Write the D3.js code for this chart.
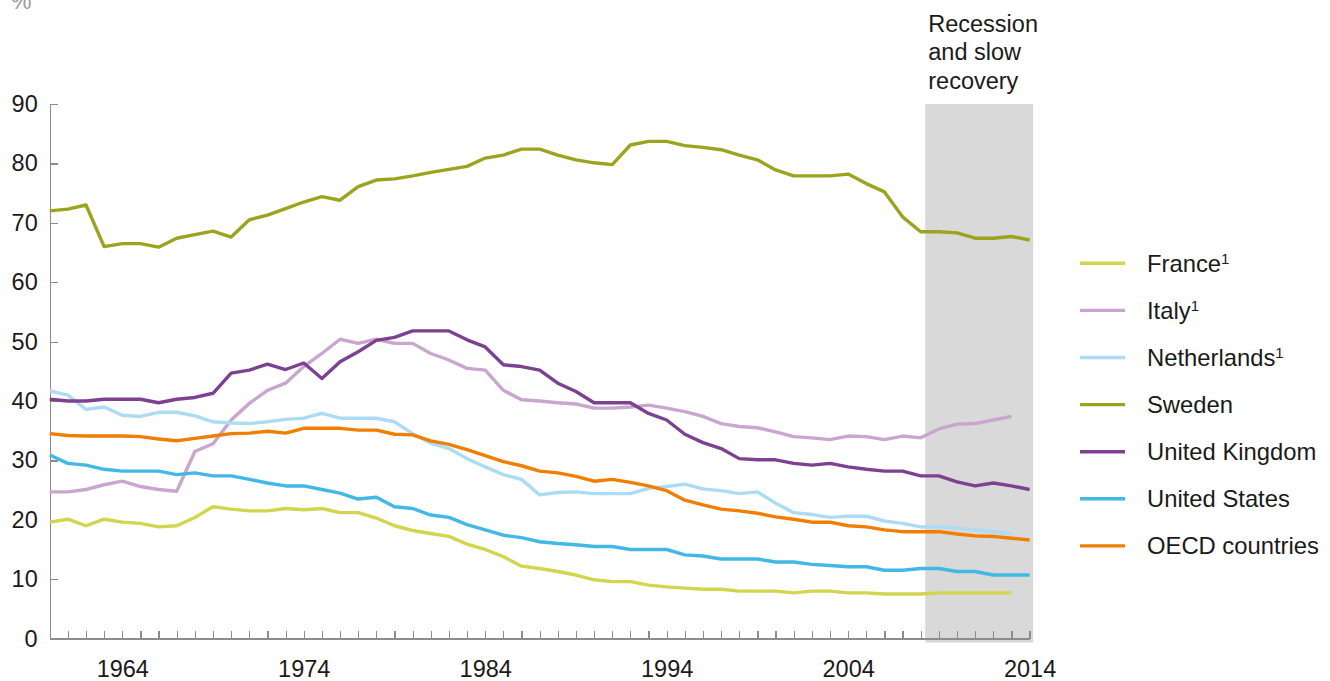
<!DOCTYPE html>
<html lang="en">
<head>
<meta charset="UTF-8">
<title>Share trends 1960-2014</title>
<script src="https://d3js.org/d3.v7.min.js"></script>
<style>
  body { margin: 0; background: #fff; }
  svg { font-family: "Liberation Sans", Arial, sans-serif; }
  .axis path, .axis line { stroke: #8c8c8c; stroke-width: 1.2; shape-rendering: crispEdges; }
  .axis text { font-size: 23.5px; fill: #1a1a1a; }
  .line { fill: none; stroke-width: 3.4; stroke-linejoin: round; stroke-linecap: butt; }
</style>
</head>
<body>
<svg id="chart" width="1330" height="681"></svg>
<script>
// years 1960..2014
const years = d3.range(1960, 2015);

const france = [19.6, 20.1, 19.0, 20.1, 19.6, 19.4, 18.8, 19.0, 20.4, 22.2,
  21.8, 21.5, 21.5, 21.9, 21.7, 21.9, 21.2, 21.2, 20.3, 19.0,
  18.2, 17.7, 17.2, 15.9, 15.0, 13.8, 12.2, 11.8, 11.3, 10.7,
  9.9, 9.6, 9.6, 9.0, 8.7, 8.5, 8.3, 8.3, 8.0, 8.0,
  8.0, 7.7, 8.0, 8.0, 7.7, 7.7, 7.5, 7.5, 7.5, 7.7,
  7.7, 7.7, 7.7, 7.7];
const italy = [24.7, 24.7, 25.1, 25.9, 26.5, 25.6, 25.1, 24.8, 31.5, 32.8,
  36.8, 39.6, 41.8, 43.0, 45.8, 48.0, 50.4, 49.7, 50.4, 49.7,
  49.7, 48.0, 46.9, 45.5, 45.2, 41.8, 40.2, 40.0, 39.7, 39.5,
  38.8, 38.8, 39.0, 39.3, 38.8, 38.2, 37.4, 36.2, 35.7, 35.5,
  34.8, 34.0, 33.8, 33.5, 34.1, 34.0, 33.5, 34.1, 33.8, 35.3,
  36.1, 36.2, 36.8, 37.4];
const netherlands = [41.7, 41.0, 38.6, 39.0, 37.6, 37.4, 38.1, 38.1, 37.5, 36.5,
  36.3, 36.2, 36.5, 36.9, 37.1, 37.9, 37.1, 37.1, 37.1, 36.5,
  34.5, 32.9, 32.0, 30.3, 28.9, 27.6, 26.8, 24.2, 24.6, 24.7,
  24.4, 24.4, 24.4, 25.3, 25.6, 26.0, 25.2, 24.9, 24.4, 24.7,
  22.8, 21.2, 20.9, 20.4, 20.6, 20.6, 19.8, 19.4, 18.8, 18.9,
  18.6, 18.3, 18.0, 17.7];
const sweden = [72.0, 72.3, 73.0, 66.0, 66.5, 66.5, 65.9, 67.4, 68.0, 68.6,
  67.6, 70.5, 71.3, 72.4, 73.5, 74.4, 73.8, 76.1, 77.2, 77.4,
  77.9, 78.5, 79.0, 79.5, 80.9, 81.4, 82.4, 82.4, 81.4, 80.6,
  80.1, 79.8, 83.1, 83.7, 83.7, 83.0, 82.7, 82.3, 81.4, 80.6,
  78.9, 77.9, 77.9, 77.9, 78.2, 76.6, 75.2, 71.0, 68.5, 68.5,
  68.3, 67.4, 67.4, 67.7, 67.1];
const uk = [40.3, 40.0, 40.0, 40.3, 40.3, 40.3, 39.7, 40.3, 40.6, 41.3,
  44.7, 45.2, 46.2, 45.3, 46.4, 43.8, 46.6, 48.3, 50.2, 50.7,
  51.8, 51.8, 51.8, 50.3, 49.1, 46.1, 45.8, 45.2, 43.0, 41.6,
  39.7, 39.7, 39.7, 37.9, 36.8, 34.4, 33.0, 32.0, 30.3, 30.1,
  30.1, 29.5, 29.2, 29.5, 28.9, 28.5, 28.2, 28.2, 27.4, 27.4,
  26.4, 25.7, 26.2, 25.7, 25.1];
const us = [30.9, 29.5, 29.2, 28.5, 28.2, 28.2, 28.2, 27.6, 27.9, 27.4,
  27.4, 26.8, 26.2, 25.7, 25.7, 25.1, 24.5, 23.5, 23.8, 22.2,
  21.9, 20.8, 20.4, 19.2, 18.3, 17.4, 17.0, 16.3, 16.0, 15.8,
  15.5, 15.5, 15.0, 15.0, 15.0, 14.1, 13.9, 13.4, 13.4, 13.4,
  12.9, 12.9, 12.5, 12.3, 12.1, 12.1, 11.5, 11.5, 11.8, 11.8,
  11.3, 11.3, 10.7, 10.7, 10.7];
const oecd = [34.5, 34.2, 34.1, 34.1, 34.1, 34.0, 33.6, 33.3, 33.7, 34.1,
  34.5, 34.6, 34.9, 34.6, 35.4, 35.4, 35.4, 35.1, 35.1, 34.4,
  34.3, 33.3, 32.7, 31.8, 30.8, 29.8, 29.1, 28.2, 27.9, 27.3,
  26.5, 26.8, 26.3, 25.7, 24.9, 23.3, 22.5, 21.8, 21.5, 21.1,
  20.5, 20.1, 19.6, 19.6, 19.0, 18.8, 18.3, 18.0, 18.0, 18.0,
  17.6, 17.3, 17.2, 16.9, 16.6];

const seriesNames = ["France", "Italy", "Netherlands", "Sweden", "United Kingdom", "United States", "OECD countries"];
const footnoted = [true, true, true, false, false, false, false];
const seriesValues = [france, italy, netherlands, sweden, uk, us, oecd];
const seriesColors = ["#d3d54f", "#c9a6ce", "#abdcf4", "#9ca41f", "#7d4192", "#43b8e6", "#f07e00"];

const recession = [2008.25, 2014.2];
const recessionLabel = ["Recession", "and slow", "recovery"];
const yTicks = d3.range(0, 100, 10);
const xLabelYears = [1964, 1974, 1984, 1994, 2004, 2014];

const svg = d3.select("#chart");

const x = d3.scaleLinear().domain([1960, 2014]).range([49.7, 1029.6]);
const y = d3.scaleLinear().domain([0, 90]).range([638.6, 104]);

// recession band
svg.append("rect")
  .attr("x", x(recession[0]))
  .attr("width", x(recession[1]) - x(recession[0]))
  .attr("y", y(90))
  .attr("height", y(0) - y(90) + 4)
  .attr("fill", "#d9d9d9");

svg.append("text")
  .attr("x", x(recession[0]) + 3)
  .attr("y", 31.5)
  .style("font-size", "23.5px")
  .attr("fill", "#1a1a1a")
  .selectAll("tspan")
  .data(recessionLabel)
  .join("tspan")
  .attr("x", x(recession[0]) + 3)
  .attr("dy", (d, i) => i === 0 ? 0 : 28.5)
  .text(d => d);

// % unit
svg.append("text")
  .attr("x", 11)
  .attr("y", 9)
  .style("font-size", "23px")
  .attr("fill", "#9a9a9a")
  .text("%");

// axes
svg.append("g")
  .attr("class", "axis")
  .attr("transform", `translate(${x(1960)},0)`)
  .call(d3.axisLeft(y).tickValues(yTicks).tickSize(-8).tickSizeOuter(0).tickPadding(12));

svg.append("g")
  .attr("class", "axis")
  .attr("transform", `translate(0,${y(0)})`)
  .call(d3.axisBottom(x)
    .tickValues(d3.range(1961, 2015))
    .tickSize(-8)
    .tickSizeOuter(0)
    .tickPadding(22)
    .tickFormat(d => xLabelYears.includes(d) ? String(d) : ""));

// lines
const line = d3.line()
  .x(d => x(d[0]))
  .y(d => y(d[1]));

seriesValues.forEach((vals, i) => {
  svg.append("path")
    .datum(vals.map((v, j) => [years[j], v]))
    .attr("class", "line")
    .attr("stroke", seriesColors[i])
    .attr("d", line);
});

// legend
const legend = svg.append("g");
seriesNames.forEach((name, i) => {
  const ly = 263.3 + i * 47.1;
  legend.append("line")
    .attr("x1", 1080).attr("x2", 1125)
    .attr("y1", ly).attr("y2", ly)
    .attr("stroke", seriesColors[i])
    .attr("stroke-width", 3.4);
  const t = legend.append("text")
    .attr("x", 1147)
    .attr("y", ly + 8.3)
    .style("font-size", "23.8px")
    .attr("fill", "#1a1a1a")
    .text(name);
  if (footnoted[i]) {
    t.append("tspan")
      .attr("dy", -8)
      .style("font-size", "15px")
      .text("1");
  }
});
</script>
</body>
</html>
